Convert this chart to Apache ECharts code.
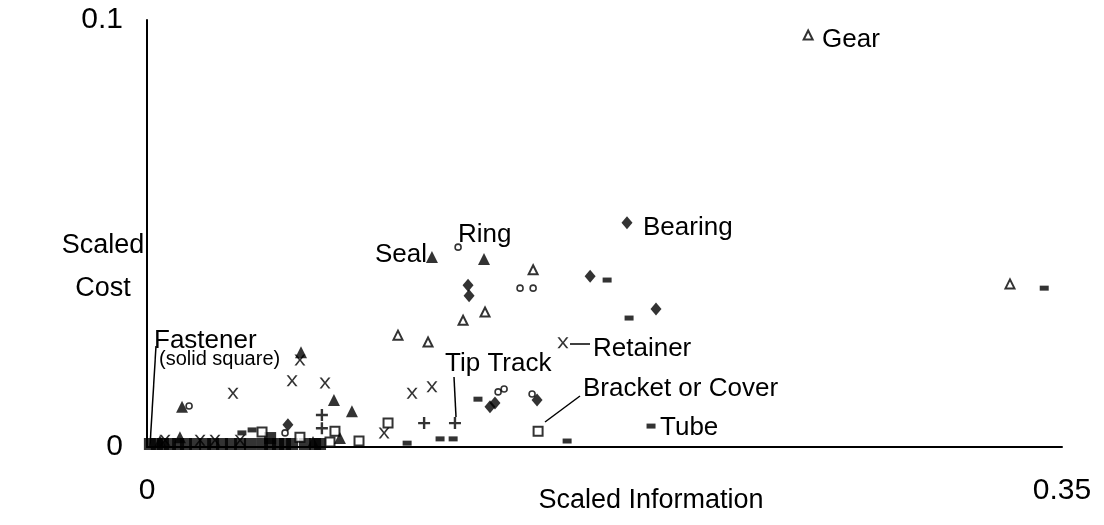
<!DOCTYPE html>
<html>
<head>
<meta charset="utf-8">
<script src="https://cdn.jsdelivr.net/npm/echarts@6/dist/echarts.min.js"></script>
<style>
  html, body { margin: 0; padding: 0; background: #fff; }
  #chart { width: 1104px; height: 525px; }
</style>
</head>
<body>
<div id="chart"></div>
<script>
// [scaled information, scaled cost] per part family
const gear = [[0.2529, 0.0965], [0.1477, 0.0415], [0.0960, 0.0262], [0.1075, 0.0246], [0.1209, 0.0297], [0.1293, 0.0316], [0.3301, 0.0382]];
const bearing = [[0.1836, 0.0525], [0.1228, 0.0379], [0.1232, 0.0354], [0.1695, 0.0400], [0.1947, 0.0323], [0.1312, 0.0094], [0.1331, 0.0103], [0.1492, 0.0110], [0.0539, 0.0052]];
const seal = [[0.1090, 0.0445], [0.1289, 0.0440], [0.0589, 0.0222], [0.0715, 0.0110], [0.0784, 0.0084], [0.0134, 0.0094], [0.0126, 0.0023], [0.0738, 0.0021], [0.0635, 0.0012], [0.0050, 0.0014]];
const ring = [[0.1190, 0.0468], [0.1427, 0.0372], [0.1477, 0.0372], [0.0161, 0.0096], [0.1343, 0.0129], [0.1366, 0.0136], [0.1473, 0.0124], [0.0528, 0.0033]];
const retainer = [[0.1591, 0.0244], [0.0329, 0.0126], [0.0555, 0.0155], [0.0681, 0.0150], [0.0585, 0.0204], [0.1014, 0.0126], [0.1090, 0.0141], [0.0907, 0.0033], [0.0356, 0.0016], [0.0069, 0.0016], [0.0203, 0.0016], [0.0260, 0.0016]];
const tipTrack = [[0.1178, 0.0056], [0.1060, 0.0056], [0.0669, 0.0075], [0.0669, 0.0044]];
const bracket = [[0.1496, 0.0037], [0.0922, 0.0056], [0.0719, 0.0037], [0.0811, 0.0014], [0.0585, 0.0023], [0.0700, 0.0012], [0.0440, 0.0035]];
const tube = [[0.1928, 0.0049], [0.1607, 0.0014], [0.1844, 0.0302], [0.1760, 0.0391], [0.3432, 0.0372], [0.1266, 0.0112], [0.0995, 0.0009], [0.1121, 0.0019], [0.1171, 0.0019], [0.0363, 0.0033], [0.0402, 0.0040]];
const fastener = [[0.0011, 0.0007], [0.0038, 0.0007], [0.0061, 0.0007], [0.0088, 0.0007], [0.0119, 0.0007], [0.0149, 0.0007], [0.0184, 0.0007], [0.0222, 0.0007], [0.0253, 0.0007], [0.0287, 0.0007], [0.0321, 0.0007], [0.0356, 0.0007], [0.0394, 0.0007], [0.0440, 0.0007], [0.0471, 0.0007], [0.0501, 0.0007], [0.0528, 0.0007], [0.0555, 0.0007], [0.0604, 0.0007], [0.0643, 0.0007], [0.0662, 0.0007], [0.0471, 0.0021]];

const xTicks = [0, 0.35];
const yTicks = [0, 0.1];

const FONT = 'Liberation Sans, Arial, sans-serif';
const X_PATH = 'path://M0,0 L2,0 L5,4 L8,0 L10,0 L6,5 L10,10 L8,10 L5,6 L2,10 L0,10 L4,5 Z';
const PLUS_PATH = 'path://M4,0 H6 V4 H10 V6 H6 V10 H4 V6 H0 V4 H4 Z';

function scatter(name, data, symbol, size, fill, border) {
    return {
        name: name,
        type: 'scatter',
        data: data,
        symbol: symbol,
        symbolSize: size,
        itemStyle: {
            color: fill,
            borderColor: border ? '#000' : undefined,
            borderWidth: border || 0
        },
        emphasis: { disabled: true }
    };
}

function note(x, y, text, size, align) {
    return {
        type: 'text', x: x, y: y,
        style: { text: text, font: size + 'px ' + FONT, fill: '#000', align: align || 'left', verticalAlign: 'middle' }
    };
}

function leader(x1, y1, x2, y2) {
    return { type: 'line', shape: { x1: x1, y1: y1, x2: x2, y2: y2 }, style: { stroke: '#000', lineWidth: 1.5 } };
}

const chart = echarts.init(document.getElementById('chart'), null, { renderer: 'canvas' });

const option = {
    animation: false,
    backgroundColor: '#fff',
    grid: { left: 147, right: 42, top: 20, bottom: 78 },
    xAxis: {
        type: 'value',
        min: xTicks[0],
        max: xTicks[1],
        interval: 0.35,
        axisLine: { show: true, lineStyle: { color: '#000', width: 2 } },
        axisTick: { show: false },
        splitLine: { show: false },
        axisLabel: { margin: 29, fontSize: 30, color: '#000', fontFamily: FONT, formatter: v => String(v) }
    },
    yAxis: {
        type: 'value',
        min: yTicks[0],
        max: yTicks[1],
        interval: 0.1,
        axisLine: { show: true, lineStyle: { color: '#000', width: 2 } },
        axisTick: { show: false },
        splitLine: { show: false },
        axisLabel: { margin: 24, fontSize: 30, color: '#000', fontFamily: FONT, padding: [10, 0, 0, 0], formatter: v => String(v) }
    },
    series: [
        scatter('Fastener', fastener, 'rect', 12, '#000'),
        scatter('Bracket or Cover', bracket, 'rect', 9, '#fff', 2),
        scatter('Tube', tube, 'rect', [9, 5], '#000'),
        scatter('Tip Track', tipTrack, PLUS_PATH, 12, '#000'),
        scatter('Retainer', retainer, X_PATH, 11, '#000'),
        scatter('Ring', ring, 'circle', 6, '#fff', 1.6),
        scatter('Seal', seal, 'triangle', 12, '#000'),
        scatter('Bearing', bearing, 'diamond', [11, 13], '#000'),
        scatter('Gear', gear, 'triangle', 9, '#fff', 2)
    ],
    graphic: [
        note(103, 246, 'Scaled', 27, 'center'),
        note(103, 289, 'Cost', 27, 'center'),
        note(651, 501, 'Scaled Information', 27, 'center'),

        note(822, 40, 'Gear', 26),
        note(643, 228, 'Bearing', 26),
        note(427, 255, 'Seal', 26, 'right'),
        note(458, 235, 'Ring', 26),
        note(593, 349, 'Retainer', 26),
        note(445, 364, 'Tip Track', 26),
        note(583, 389, 'Bracket or Cover', 26),
        note(660, 428, 'Tube', 26),
        note(154, 341, 'Fastener', 26),
        note(159, 359, '(solid square)', 20),

        leader(156, 346, 150, 446),
        leader(454, 377, 456, 417),
        leader(570, 344, 590, 344),
        leader(545, 422, 580, 396)
    ]
};

chart.setOption(option);
</script>
</body>
</html>
